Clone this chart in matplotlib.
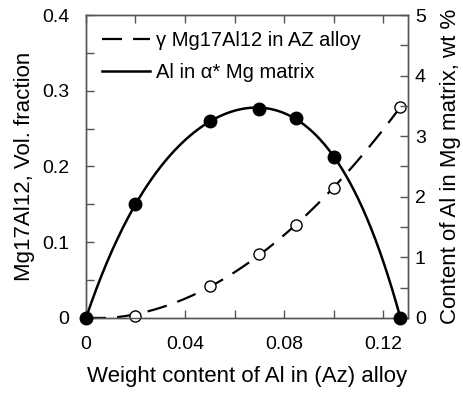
import numpy as np
import matplotlib
matplotlib.use("Agg")
import matplotlib.pyplot as plt
from matplotlib.lines import Line2D

plt.rcParams['font.family'] = ['Liberation Sans', 'DejaVu Sans']

# Data
al_alloy_gamma = [0.0, 0.02, 0.05, 0.07, 0.085, 0.10, 0.127]
gamma_vol_frac = [0.0, 0.003, 0.042, 0.085, 0.123, 0.171, 0.279]

al_alloy_matrix = [0.0, 0.02, 0.05, 0.07, 0.085, 0.10, 0.127]
al_in_matrix_wt = [0.0, 1.875, 3.25, 3.45, 3.30, 2.66, 0.0]

x_ticks = [0, 0.04, 0.08, 0.12]
x_tick_labels = ["0", "0.04", "0.08", "0.12"]
yl_ticks = [0, 0.1, 0.2, 0.3, 0.4]
yl_tick_labels = ["0", "0.1", "0.2", "0.3", "0.4"]
yr_ticks = [0, 1, 2, 3, 4, 5]

spine_col = '#555555'

fig = plt.figure(figsize=(4.64, 3.95), dpi=100)
ax = fig.add_axes([0.1853, 0.195, 0.879 - 0.1853, 0.962 - 0.195])
ax2 = ax.twinx()

# smooth curves fitted to the data
xg = np.array(al_alloy_gamma); yg = np.array(gamma_vol_frac)
cg = np.polyfit(xg, yg, 3)
xs_g = np.linspace(0, xg[-1], 300)
ys_g = np.clip(np.polyval(cg, xs_g), 0, None)

xm = np.array(al_alloy_matrix); ym = np.array(al_in_matrix_wt)
w = np.ones_like(xm); w[0] = 5; w[-1] = 5
cm = np.polyfit(xm, ym, 4, w=w)
xs_m = np.linspace(0, xm[-1], 300)
ys_m = np.polyval(cm, xs_m)

ax.plot(xs_g, ys_g, color='black', lw=1.6, dashes=(9, 5), zorder=2)
ax.plot(xg, yg, 'o', mfc='white', mec='black', mew=1.0, ms=8, zorder=3, clip_on=False)

ax2.plot(xs_m, ys_m, color='black', lw=1.8, zorder=2)
ax2.plot(xm, ym, 'o', color='black', ms=9, zorder=4, clip_on=False)

ax.set_xlim(0, 0.13)
ax.set_ylim(0, 0.4)
ax2.set_ylim(0, 5)

ax.set_xticks(np.arange(0, 0.1301, 0.02), minor=True)
ax.set_xticks(x_ticks)
ax.set_xticklabels(x_tick_labels)
ax.set_yticks(yl_ticks)
ax.set_yticklabels(yl_tick_labels)
ax.set_yticks(np.arange(0, 0.401, 0.05), minor=True)
ax2.set_yticks(yr_ticks)
ax2.set_yticks(np.arange(0, 5.01, 0.5), minor=True)

for a in (ax, ax2):
    for s in a.spines.values():
        s.set_color(spine_col)
        s.set_linewidth(1.0)
    a.tick_params(which='both', direction='in', length=6, width=1.0, color=spine_col,
                  labelsize=14)
ax.tick_params(which='both', top=True)
ax.tick_params(axis='x', which='major', pad=13)
ax.tick_params(axis='y', which='major', pad=12)
ax2.tick_params(axis='y', which='major', pad=5)

ax.set_xlabel("Weight content of Al in (Az) alloy", fontsize=16, labelpad=9)
ax.set_ylabel("Mg17Al12, Vol. fraction", fontsize=16, labelpad=5)
ax2.set_ylabel("Content of Al in Mg matrix, wt %", fontsize=16, labelpad=10)

handles = [Line2D([], [], color='black', lw=1.6, dashes=(9, 5)),
           Line2D([], [], color='black', lw=1.8)]
labels = ["\u03b3 Mg17Al12 in AZ alloy", "Al in \u03b1* Mg matrix"]
ax2.legend(handles, labels, loc='upper left', frameon=False, fontsize=14.5,
           handlelength=2.4, handletextpad=0.3, borderaxespad=0.4, borderpad=0.4,
           labelspacing=0.65)

fig.savefig("out.png", dpi=100)
